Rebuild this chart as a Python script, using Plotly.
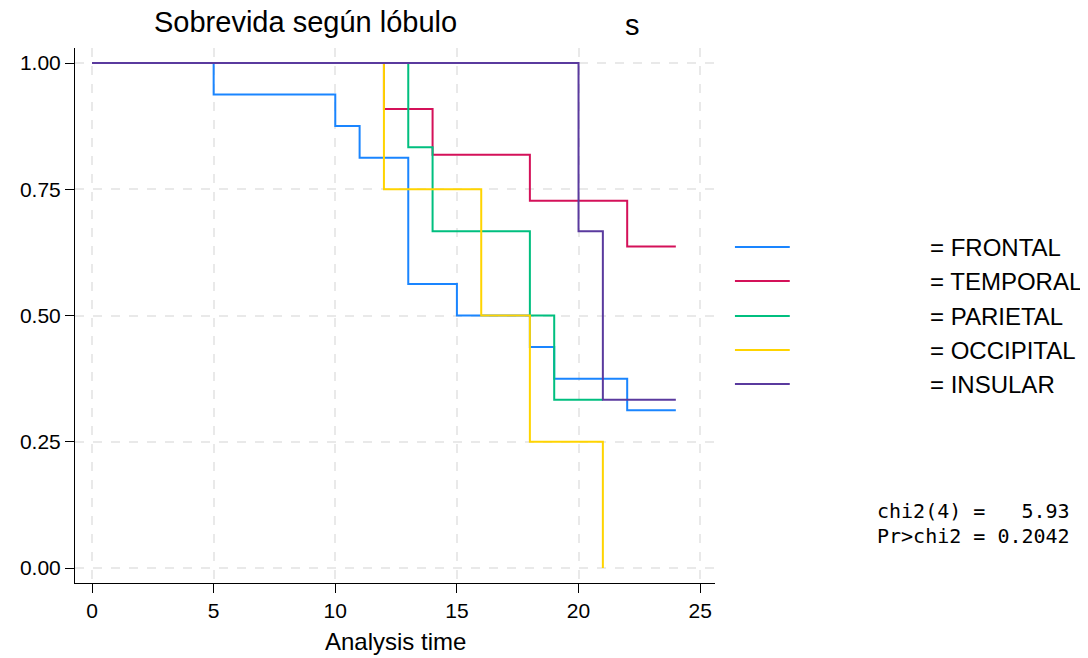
import plotly.graph_objects as go

# ---- data ----
lobes = ["FRONTAL", "TEMPORAL", "PARIETAL", "OCCIPITAL", "INSULAR"]
colors = ["#1a85ff", "#d41159", "#00bf7f", "#ffd400", "#5a3a9e"]

frontal_t = [0, 5, 10, 11, 13, 15, 18, 19, 22, 24]
frontal_s = [1.0, 0.9375, 0.875, 0.8125, 0.5625, 0.5, 0.4375, 0.375, 0.3125, 0.3125]
temporal_t = [0, 12, 14, 18, 22, 24]
temporal_s = [1.0, 0.9091, 0.8182, 0.7273, 0.6364, 0.6364]
parietal_t = [0, 13, 14, 18, 19, 21]
parietal_s = [1.0, 0.8333, 0.6667, 0.5, 0.3333, 0.3333]
occipital_t = [0, 12, 16, 18, 21]
occipital_s = [1.0, 0.75, 0.5, 0.25, 0.0]
insular_t = [0, 20, 21, 24]
insular_s = [1.0, 0.6667, 0.3333, 0.3333]

series_t = [frontal_t, temporal_t, parietal_t, occipital_t, insular_t]
series_s = [frontal_s, temporal_s, parietal_s, occipital_s, insular_s]

x_ticks = [0, 5, 10, 15, 20, 25]
y_ticks = [0, 0.25, 0.5, 0.75, 1.0]
y_ticklabels = ["0.00", "0.25", "0.50", "0.75", "1.00"]

title_text = "Sobrevida según lóbulo"
title_extra = "s"
xaxis_title = "Analysis time"
stat_lines = ["chi2(4) =   5.93", "Pr>chi2 = 0.2042"]

# ---- layout geometry (pixels, page has an 8px body margin) ----
OFF = 8
W, H = 1088, 658
L, R, T, B = 73 - OFF, 715 - OFF, 48 - OFF, 583 - OFF


def px_x(p):
    return (p - OFF - L) / (R - L)


def px_y(p):
    return (B - (p - OFF)) / (B - T)


FONT = "Liberation Sans, Arial, sans-serif"

fig = go.Figure()
for name, col, t, s in zip(lobes, colors, series_t, series_s):
    fig.add_trace(go.Scatter(
        x=t, y=s, mode="lines", line=dict(color=col, width=2, shape="hv"),
        name=name, showlegend=False, hoverinfo="skip"))

grid = dict(showgrid=True, gridcolor="#e9e9e9", gridwidth=1.5, griddash="dash")
axfont = dict(family=FONT, size=21, color="black")

fig.update_layout(
    width=W, height=H,
    margin=dict(l=L, r=W - R, t=T, b=H - B, pad=0),
    paper_bgcolor="white", plot_bgcolor="white",
    showlegend=False,
    font=axfont,
    xaxis=dict(range=[-0.70, 25.61], tickvals=x_ticks, ticks="outside", ticklen=9,
               tickcolor="black", showline=True, linecolor="black", linewidth=1,
               zeroline=False, tickfont=axfont, **grid),
    yaxis=dict(range=[-0.0297, 1.0297], tickvals=y_ticks, ticktext=y_ticklabels,
               ticks="outside", ticklen=9, tickcolor="black", showline=True,
               linecolor="black", linewidth=1, zeroline=False, tickfont=axfont,
               **grid),
)

ann = []
ann.append(dict(text=title_text, xref="paper", yref="paper", x=px_x(150), y=px_y(22),
                xanchor="left", yanchor="middle", showarrow=False,
                font=dict(family=FONT, size=29, color="black")))
ann.append(dict(text=title_extra, xref="paper", yref="paper", x=px_x(632), y=px_y(25),
                xanchor="center", yanchor="middle", showarrow=False,
                font=dict(family=FONT, size=29, color="black")))
ann.append(dict(text=xaxis_title, xref="paper", yref="paper", x=px_x(394), y=px_y(641),
                xanchor="center", yanchor="middle", showarrow=False,
                font=dict(family=FONT, size=24, color="black")))

legend_rows = [247, 281, 316, 350, 384]
shapes = []
for name, col, yr in zip(lobes, colors, legend_rows):
    shapes.append(dict(type="line", xref="paper", yref="paper",
                       x0=px_x(735), x1=px_x(790), y0=px_y(yr), y1=px_y(yr),
                       line=dict(color=col, width=2)))
    ann.append(dict(text="= " + name, xref="paper", yref="paper", x=px_x(929), y=px_y(yr),
                    xanchor="left", yanchor="middle", showarrow=False,
                    font=dict(family=FONT, size=24, color="black")))

for line, yr in zip(stat_lines, [511, 536]):
    ann.append(dict(text=line.replace(" ", "\u00a0"), xref="paper", yref="paper",
                    x=px_x(875), y=px_y(yr), xanchor="left", yanchor="middle",
                    showarrow=False,
                    font=dict(family="DejaVu Sans Mono, monospace", size=20, color="black")))

fig.update_layout(annotations=ann, shapes=shapes)
fig.write_html("out.html")
